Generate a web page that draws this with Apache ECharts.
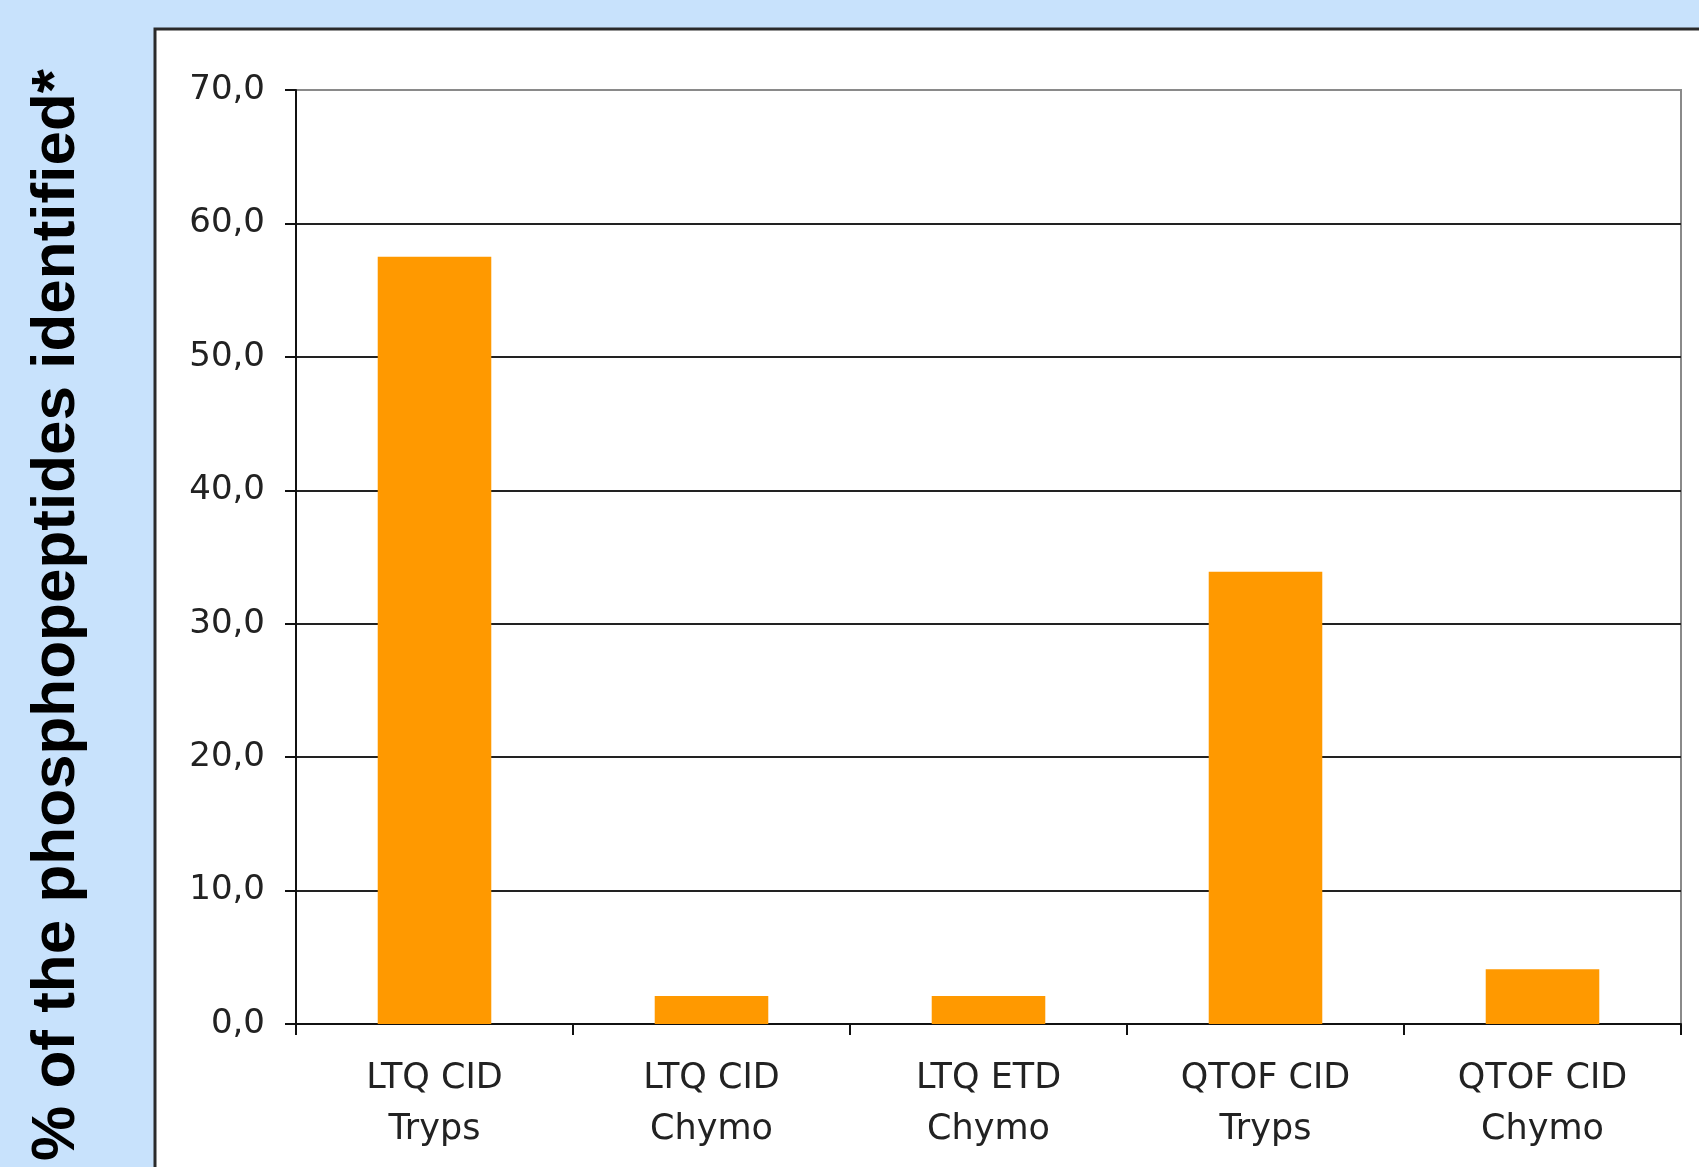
<!DOCTYPE html>
<html>
<head>
<meta charset="utf-8">
<script src="https://cdn.jsdelivr.net/npm/echarts@6/dist/echarts.min.js"></script>
<style>
html,body{margin:0;padding:0;background:#C8E2FC;}
#chart{width:1699px;height:1167px;}
</style>
</head>
<body>
<div id="chart"></div>
<script>
const categories = ['LTQ CID\nTryps', 'LTQ CID\nChymo', 'LTQ ETD\nChymo', 'QTOF CID\nTryps', 'QTOF CID\nChymo'];
const values = [57.5, 2.1, 2.1, 33.9, 4.1];
const yTitle = '% of the phosphopeptides identified*';
const yMin = 0, yMax = 70, yStep = 10;

const chart = echarts.init(document.getElementById('chart'), null, {renderer: 'canvas'});
const splitColors = ['#222','#222','#222','#222','#222','#222','#222','#8a8a8a'];
chart.setOption({
  backgroundColor: '#C8E2FC',
  animation: false,
  graphic: [
    {type: 'rect', z: -10, shape: {x: 155, y: 29, width: 1700, height: 1300},
     style: {fill: '#ffffff', stroke: '#2a2a2a', lineWidth: 3}},
    {type: 'text', z: 10, x: 57, y: 615, rotation: Math.PI / 2,
     style: {text: yTitle, fill: '#000', font: 'bold 62px "Liberation Sans", Arial, sans-serif',
             align: 'center', verticalAlign: 'middle'}}
  ],
  grid: {left: 296, top: 90, right: 18, bottom: 143, show: true, borderColor: '#8a8a8a', borderWidth: 2, backgroundColor: 'transparent'},
  xAxis: {
    type: 'category',
    data: categories,
    axisLine: {show: true, lineStyle: {color: '#111', width: 2}},
    axisTick: {show: true, alignWithLabel: false, length: 11, lineStyle: {color: '#111', width: 2}},
    axisLabel: {color: '#222', fontSize: 35, fontFamily: '"DejaVu Sans", sans-serif', lineHeight: 51, margin: 29, interval: 0},
    splitLine: {show: false}
  },
  yAxis: {
    type: 'value',
    min: yMin, max: yMax, interval: yStep,
    axisLine: {show: true, lineStyle: {color: '#111', width: 2}},
    axisTick: {show: true, length: 11, lineStyle: {color: '#111', width: 2}},
    axisLabel: {color: '#222', fontSize: 34, fontFamily: '"DejaVu Sans", sans-serif', margin: 31,
      formatter: v => v.toFixed(1).replace('.', ',')},
    splitLine: {show: true, lineStyle: {color: splitColors, width: 2}}
  },
  series: [{
    type: 'bar',
    data: values,
    barWidth: '41%',
    itemStyle: {color: '#FF9900'}
  }]
});
</script>
</body>
</html>
